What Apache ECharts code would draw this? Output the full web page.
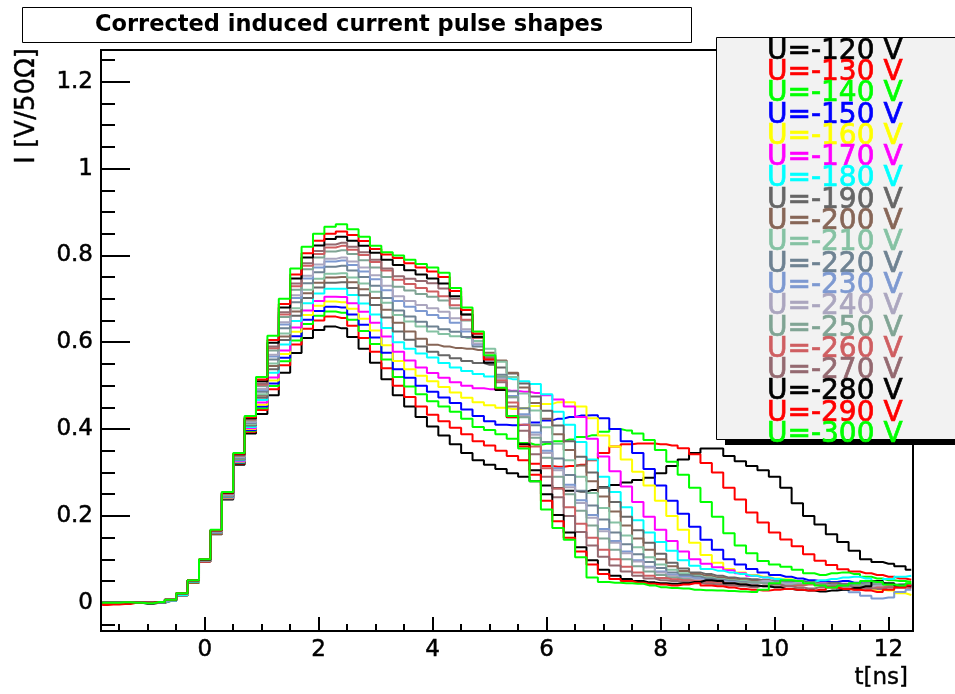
<!DOCTYPE html>
<html>
<head>
<meta charset="utf-8">
<script src="https://cdn.jsdelivr.net/npm/echarts@6.0.0/dist/echarts.min.js"></script>
<style>
  html, body { margin: 0; padding: 0; background: #fff; }
  #pulseChart { width: 955px; height: 694px; }
</style>
</head>
<body>
<div id="pulseChart"></div>
<script>
// bin centres, ns
const timeNs = [-1.8, -1.6, -1.4, -1.2, -1.0, -0.8, -0.6, -0.4, -0.2, 0.0, 0.2, 0.4, 0.6, 0.8,
  1.0, 1.2, 1.4, 1.6, 1.8, 2.0, 2.2, 2.4, 2.6, 2.8, 3.0, 3.2, 3.4, 3.6, 3.8, 4.0,
  4.2, 4.4, 4.6, 4.8, 5.0, 5.2, 5.4, 5.6, 5.8, 6.0, 6.2, 6.4, 6.6, 6.8, 7.0, 7.2, 7.4, 7.6, 7.8, 8.0,
  8.2, 8.4, 8.6, 8.8, 9.0, 9.2, 9.4, 9.6, 9.8, 10.0, 10.2, 10.4, 10.6, 10.8, 11.0, 11.2, 11.4, 11.6, 11.8, 12.0, 12.2, 12.4];

const legendLabels = ['U=-120 V', 'U=-130 V', 'U=-140 V', 'U=-150 V', 'U=-160 V', 'U=-170 V', 'U=-180 V',
  'U=-190 V', 'U=-200 V', 'U=-210 V', 'U=-220 V', 'U=-230 V', 'U=-240 V', 'U=-250 V', 'U=-260 V',
  'U=-270 V', 'U=-280 V', 'U=-290 V', 'U=-300 V'];

const lineColors = ['#000000', '#ff0000', '#00ff00', '#0000ff', '#ffff00', '#ff00ff', '#00ffff',
  '#666666', '#876657', '#85c2a3', '#6e8292', '#7d99d1', '#aba6bf', '#80a494', '#cf5e61',
  '#946970', '#000000', '#ff0000', '#00ff00'];

const xTickLabels = [0, 2, 4, 6, 8, 10, 12];
const xMinorTicks = [-1.5, -1, -0.5, 0, 0.5, 1, 1.5, 2, 2.5, 3, 3.5, 4, 4.5, 5, 5.5, 6, 6.5, 7, 7.5, 8, 8.5, 9, 9.5, 10, 10.5, 11, 11.5, 12];
const yTickLabels = [0, 0.2, 0.4, 0.6, 0.8, 1, 1.2];
const yMinorTicks = [-0.05, 0, 0.05, 0.1, 0.15, 0.2, 0.25, 0.3, 0.35, 0.4, 0.45, 0.5, 0.55, 0.6, 0.65, 0.7,
  0.75, 0.8, 0.85, 0.9, 0.95, 1, 1.05, 1.1, 1.15, 1.2, 1.25];

// I [V/50 Ohm] per bin, one array per bias voltage
const pulse120 = [0.000, 0.000, 0.000, 0.000, -0.002, 0.000, 0.004, 0.017, 0.046, 0.095, 0.158, 0.238, 0.318, 0.390,
  0.435, 0.478, 0.530, 0.575, 0.610, 0.628, 0.636, 0.632, 0.612, 0.585, 0.553, 0.515, 0.478, 0.452, 0.428, 0.406,
  0.385, 0.365, 0.345, 0.328, 0.318, 0.308, 0.298, 0.290, 0.280, 0.270, 0.264, 0.258, 0.256, 0.260, 0.266, 0.271, 0.277, 0.283, 0.288, 0.298,
  0.315, 0.330, 0.345, 0.355, 0.355, 0.338, 0.326, 0.315, 0.305, 0.290, 0.265, 0.229, 0.200, 0.180, 0.158, 0.140, 0.120, 0.100, 0.094, 0.090, 0.084, 0.076];
const pulse130 = [-0.005, -0.004, -0.003, 0.000, 0.000, 0.001, 0.005, 0.018, 0.047, 0.095, 0.159, 0.240, 0.321, 0.394,
  0.444, 0.492, 0.547, 0.595, 0.631, 0.650, 0.659, 0.656, 0.638, 0.610, 0.578, 0.540, 0.500, 0.474, 0.452, 0.433,
  0.418, 0.403, 0.388, 0.372, 0.362, 0.350, 0.338, 0.328, 0.320, 0.315, 0.313, 0.315, 0.318, 0.328, 0.345, 0.360, 0.365, 0.367, 0.367, 0.365,
  0.362, 0.356, 0.342, 0.322, 0.300, 0.265, 0.238, 0.208, 0.185, 0.162, 0.146, 0.130, 0.112, 0.097, 0.087, 0.077, 0.072, 0.068, 0.064, 0.060, 0.056, 0.053];
const pulse140 = [0.000, 0.001, 0.000, 0.000, 0.000, 0.002, 0.006, 0.019, 0.048, 0.096, 0.160, 0.241, 0.322, 0.396,
  0.448, 0.499, 0.556, 0.604, 0.642, 0.661, 0.671, 0.668, 0.652, 0.626, 0.596, 0.560, 0.520, 0.498, 0.480, 0.464,
  0.452, 0.440, 0.424, 0.405, 0.398, 0.388, 0.378, 0.368, 0.364, 0.366, 0.372, 0.376, 0.382, 0.386, 0.394, 0.400, 0.397, 0.390, 0.375, 0.352,
  0.325, 0.295, 0.265, 0.232, 0.198, 0.160, 0.132, 0.114, 0.096, 0.088, 0.083, 0.076, 0.068, 0.064, 0.068, 0.070, 0.066, 0.060, 0.056, 0.052, 0.050, 0.048];
const pulse150 = [0.000, 0.000, 0.001, 0.000, 0.000, 0.001, 0.005, 0.019, 0.048, 0.096, 0.160, 0.241, 0.323, 0.398,
  0.452, 0.505, 0.564, 0.614, 0.652, 0.672, 0.682, 0.680, 0.664, 0.640, 0.611, 0.576, 0.538, 0.518, 0.500, 0.486,
  0.473, 0.460, 0.445, 0.430, 0.418, 0.410, 0.409, 0.410, 0.415, 0.420, 0.424, 0.428, 0.431, 0.432, 0.425, 0.400, 0.372, 0.345, 0.308, 0.270,
  0.235, 0.205, 0.175, 0.145, 0.122, 0.100, 0.088, 0.078, 0.070, 0.064, 0.060, 0.056, 0.052, 0.050, 0.048, 0.050, 0.046, 0.042, 0.045, 0.040, 0.038, 0.040];
const pulse160 = [0.000, 0.000, 0.000, 0.001, 0.000, 0.001, 0.005, 0.018, 0.047, 0.096, 0.160, 0.242, 0.325, 0.400,
  0.456, 0.512, 0.573, 0.624, 0.663, 0.684, 0.694, 0.692, 0.677, 0.654, 0.627, 0.593, 0.557, 0.538, 0.523, 0.510,
  0.497, 0.484, 0.472, 0.462, 0.455, 0.449, 0.446, 0.448, 0.453, 0.458, 0.462, 0.462, 0.452, 0.425, 0.385, 0.360, 0.330, 0.302, 0.270, 0.235,
  0.200, 0.168, 0.138, 0.110, 0.092, 0.078, 0.070, 0.064, 0.060, 0.056, 0.054, 0.050, 0.046, 0.044, 0.045, 0.042, 0.040, 0.035, 0.030, 0.028, 0.022, 0.018];
const pulse170 = [0.000, 0.000, 0.000, 0.000, 0.001, 0.002, 0.007, 0.020, 0.049, 0.097, 0.161, 0.243, 0.326, 0.402,
  0.461, 0.519, 0.581, 0.634, 0.673, 0.695, 0.705, 0.704, 0.690, 0.670, 0.645, 0.613, 0.578, 0.558, 0.542, 0.529,
  0.518, 0.508, 0.500, 0.494, 0.492, 0.490, 0.488, 0.486, 0.483, 0.478, 0.468, 0.452, 0.428, 0.378, 0.337, 0.303, 0.268, 0.232, 0.198, 0.168,
  0.142, 0.118, 0.100, 0.090, 0.082, 0.075, 0.068, 0.062, 0.058, 0.055, 0.050, 0.048, 0.046, 0.045, 0.042, 0.044, 0.040, 0.038, 0.040, 0.036, 0.034, 0.035];
const pulse180 = [0.000, 0.000, 0.000, 0.000, 0.000, 0.001, 0.004, 0.018, 0.048, 0.097, 0.162, 0.244, 0.328, 0.405,
  0.467, 0.530, 0.595, 0.649, 0.690, 0.712, 0.723, 0.723, 0.709, 0.689, 0.664, 0.633, 0.600, 0.585, 0.574, 0.565,
  0.552, 0.542, 0.534, 0.527, 0.521, 0.518, 0.515, 0.510, 0.504, 0.480, 0.440, 0.410, 0.370, 0.330, 0.290, 0.255, 0.220, 0.190, 0.162, 0.140,
  0.120, 0.098, 0.085, 0.078, 0.074, 0.070, 0.066, 0.062, 0.058, 0.055, 0.052, 0.050, 0.048, 0.052, 0.055, 0.058, 0.060, 0.056, 0.050, 0.055, 0.060, 0.062];
const pulse190 = [0.000, 0.000, 0.001, 0.000, 0.000, 0.002, 0.006, 0.020, 0.049, 0.097, 0.162, 0.245, 0.330, 0.408,
  0.472, 0.538, 0.605, 0.661, 0.702, 0.726, 0.737, 0.738, 0.725, 0.708, 0.686, 0.657, 0.625, 0.606, 0.590, 0.578,
  0.570, 0.563, 0.557, 0.552, 0.548, 0.542, 0.528, 0.505, 0.475, 0.442, 0.408, 0.372, 0.336, 0.300, 0.265, 0.232, 0.198, 0.167, 0.138, 0.113,
  0.092, 0.079, 0.070, 0.066, 0.062, 0.058, 0.056, 0.054, 0.052, 0.050, 0.048, 0.050, 0.047, 0.044, 0.046, 0.043, 0.040, 0.044, 0.046, 0.042, 0.040, 0.043];
const pulse200 = [0.000, 0.000, 0.000, 0.000, 0.000, 0.002, 0.006, 0.020, 0.050, 0.097, 0.163, 0.246, 0.331, 0.410,
  0.477, 0.545, 0.613, 0.671, 0.713, 0.737, 0.749, 0.750, 0.738, 0.722, 0.702, 0.675, 0.645, 0.625, 0.608, 0.594,
  0.590, 0.587, 0.585, 0.582, 0.576, 0.558, 0.530, 0.496, 0.460, 0.424, 0.388, 0.352, 0.316, 0.280, 0.245, 0.210, 0.178, 0.148, 0.122, 0.100,
  0.084, 0.073, 0.066, 0.062, 0.058, 0.055, 0.052, 0.050, 0.052, 0.048, 0.046, 0.044, 0.046, 0.042, 0.040, 0.042, 0.044, 0.040, 0.038, 0.040, 0.042, 0.038];
const pulse210 = [0.000, 0.000, 0.000, 0.001, 0.000, 0.002, 0.006, 0.020, 0.050, 0.098, 0.163, 0.247, 0.332, 0.411,
  0.480, 0.551, 0.620, 0.678, 0.721, 0.746, 0.758, 0.759, 0.749, 0.735, 0.716, 0.691, 0.663, 0.648, 0.636, 0.625,
  0.619, 0.614, 0.610, 0.603, 0.585, 0.555, 0.520, 0.482, 0.443, 0.404, 0.366, 0.328, 0.290, 0.253, 0.218, 0.185, 0.155, 0.128, 0.105, 0.088,
  0.076, 0.068, 0.062, 0.058, 0.055, 0.052, 0.050, 0.048, 0.046, 0.048, 0.045, 0.042, 0.044, 0.040, 0.038, 0.041, 0.043, 0.040, 0.038, 0.041, 0.043, 0.040];
const pulse220 = [0.000, 0.000, 0.000, 0.000, 0.000, 0.002, 0.006, 0.021, 0.050, 0.098, 0.164, 0.248, 0.334, 0.414,
  0.486, 0.560, 0.632, 0.692, 0.736, 0.761, 0.774, 0.776, 0.765, 0.750, 0.730, 0.702, 0.673, 0.659, 0.647, 0.636,
  0.630, 0.624, 0.612, 0.590, 0.560, 0.525, 0.487, 0.448, 0.409, 0.370, 0.332, 0.294, 0.258, 0.224, 0.192, 0.162, 0.135, 0.112, 0.094, 0.080,
  0.070, 0.064, 0.060, 0.056, 0.053, 0.050, 0.048, 0.046, 0.048, 0.050, 0.047, 0.044, 0.045, 0.042, 0.040, 0.042, 0.044, 0.046, 0.043, 0.040, 0.042, 0.044];
const pulse230 = [0.000, 0.000, 0.000, 0.000, 0.001, 0.002, 0.006, 0.021, 0.050, 0.098, 0.164, 0.249, 0.336, 0.416,
  0.490, 0.567, 0.641, 0.702, 0.747, 0.772, 0.786, 0.788, 0.778, 0.763, 0.745, 0.720, 0.695, 0.682, 0.672, 0.663,
  0.656, 0.645, 0.625, 0.595, 0.558, 0.518, 0.476, 0.434, 0.392, 0.350, 0.310, 0.272, 0.236, 0.202, 0.170, 0.142, 0.118, 0.098, 0.083, 0.072,
  0.065, 0.060, 0.056, 0.052, 0.050, 0.048, 0.046, 0.048, 0.046, 0.044, 0.045, 0.047, 0.044, 0.040, 0.036, 0.030, 0.024, 0.016, 0.010, 0.012, 0.025, 0.030];
const pulse240 = [0.000, 0.000, 0.001, 0.000, 0.000, 0.002, 0.007, 0.021, 0.051, 0.098, 0.165, 0.250, 0.336, 0.417,
  0.493, 0.571, 0.646, 0.708, 0.753, 0.779, 0.792, 0.795, 0.786, 0.772, 0.754, 0.730, 0.706, 0.695, 0.686, 0.678,
  0.670, 0.655, 0.630, 0.597, 0.558, 0.516, 0.473, 0.430, 0.387, 0.345, 0.305, 0.266, 0.230, 0.196, 0.165, 0.138, 0.114, 0.095, 0.081, 0.070,
  0.062, 0.057, 0.053, 0.050, 0.048, 0.046, 0.045, 0.048, 0.050, 0.046, 0.044, 0.046, 0.044, 0.040, 0.038, 0.036, 0.035, 0.038, 0.040, 0.036, 0.034, 0.036];
const pulse250 = [0.000, 0.000, 0.000, 0.000, 0.000, 0.002, 0.007, 0.021, 0.051, 0.099, 0.165, 0.251, 0.338, 0.420,
  0.499, 0.581, 0.658, 0.721, 0.768, 0.795, 0.809, 0.812, 0.803, 0.789, 0.772, 0.750, 0.728, 0.719, 0.711, 0.705,
  0.696, 0.678, 0.650, 0.612, 0.568, 0.521, 0.474, 0.427, 0.380, 0.334, 0.290, 0.250, 0.212, 0.178, 0.148, 0.122, 0.100, 0.084, 0.072, 0.064,
  0.058, 0.054, 0.050, 0.048, 0.046, 0.044, 0.046, 0.048, 0.045, 0.042, 0.040, 0.042, 0.045, 0.042, 0.040, 0.038, 0.040, 0.043, 0.045, 0.042, 0.040, 0.042];
const pulse260 = [0.000, 0.000, 0.000, 0.000, 0.000, 0.002, 0.007, 0.022, 0.051, 0.099, 0.166, 0.251, 0.339, 0.422,
  0.502, 0.586, 0.664, 0.729, 0.776, 0.803, 0.818, 0.822, 0.813, 0.801, 0.785, 0.765, 0.744, 0.734, 0.725, 0.717,
  0.706, 0.685, 0.652, 0.610, 0.562, 0.512, 0.461, 0.410, 0.360, 0.310, 0.263, 0.220, 0.182, 0.150, 0.122, 0.100, 0.083, 0.070, 0.062, 0.057,
  0.054, 0.052, 0.050, 0.048, 0.046, 0.044, 0.042, 0.040, 0.038, 0.036, 0.038, 0.040, 0.042, 0.040, 0.036, 0.033, 0.030, 0.032, 0.035, 0.038, 0.036, 0.034];
const pulse270 = [0.000, 0.000, 0.000, 0.001, 0.000, 0.002, 0.007, 0.022, 0.052, 0.099, 0.166, 0.252, 0.340, 0.423,
  0.505, 0.590, 0.669, 0.735, 0.782, 0.810, 0.825, 0.829, 0.820, 0.807, 0.790, 0.770, 0.752, 0.746, 0.741, 0.736,
  0.724, 0.700, 0.664, 0.618, 0.565, 0.508, 0.452, 0.396, 0.342, 0.290, 0.243, 0.200, 0.163, 0.132, 0.106, 0.086, 0.072, 0.062, 0.056, 0.052,
  0.050, 0.048, 0.046, 0.044, 0.042, 0.040, 0.038, 0.036, 0.040, 0.042, 0.038, 0.035, 0.033, 0.036, 0.038, 0.040, 0.036, 0.034, 0.032, 0.035, 0.038, 0.036];
const pulse280 = [0.000, 0.000, 0.000, 0.000, 0.000, 0.002, 0.007, 0.022, 0.052, 0.099, 0.167, 0.253, 0.342, 0.425,
  0.510, 0.599, 0.680, 0.747, 0.795, 0.823, 0.838, 0.843, 0.834, 0.822, 0.806, 0.790, 0.778, 0.766, 0.756, 0.747,
  0.735, 0.706, 0.664, 0.612, 0.553, 0.490, 0.427, 0.365, 0.305, 0.250, 0.202, 0.162, 0.128, 0.098, 0.076, 0.062, 0.055, 0.050, 0.047, 0.045,
  0.044, 0.045, 0.048, 0.052, 0.050, 0.045, 0.042, 0.040, 0.038, 0.036, 0.032, 0.030, 0.028, 0.026, 0.028, 0.030, 0.034, 0.038, 0.050, 0.045, 0.040, 0.038];
const pulse290 = [-0.003, -0.003, 0.000, 0.000, 0.000, 0.002, 0.007, 0.022, 0.052, 0.100, 0.167, 0.254, 0.343, 0.427,
  0.514, 0.605, 0.688, 0.756, 0.805, 0.834, 0.850, 0.855, 0.847, 0.833, 0.815, 0.802, 0.794, 0.782, 0.772, 0.763,
  0.750, 0.718, 0.674, 0.620, 0.560, 0.494, 0.428, 0.360, 0.295, 0.235, 0.188, 0.150, 0.118, 0.088, 0.066, 0.055, 0.050, 0.046, 0.044, 0.042,
  0.040, 0.042, 0.045, 0.040, 0.038, 0.035, 0.032, 0.030, 0.028, 0.030, 0.032, 0.030, 0.028, 0.030, 0.035, 0.032, 0.030, 0.028, 0.025, 0.030, 0.035, 0.040];
const pulse300 = [0.000, 0.000, 0.001, 0.000, -0.001, 0.002, 0.007, 0.022, 0.052, 0.100, 0.168, 0.255, 0.345, 0.430,
  0.520, 0.615, 0.700, 0.770, 0.820, 0.850, 0.866, 0.872, 0.860, 0.843, 0.822, 0.807, 0.800, 0.790, 0.780, 0.772,
  0.760, 0.725, 0.680, 0.625, 0.570, 0.495, 0.430, 0.355, 0.280, 0.215, 0.172, 0.145, 0.105, 0.058, 0.048, 0.046, 0.045, 0.044, 0.040, 0.036,
  0.034, 0.033, 0.030, 0.029, 0.028, 0.027, 0.026, 0.025, 0.030, 0.045, 0.052, 0.050, 0.045, 0.040, 0.035, 0.040, 0.045, 0.050, 0.048, 0.042, 0.040, 0.045];

const pulses = [pulse120, pulse130, pulse140, pulse150, pulse160, pulse170, pulse180, pulse190, pulse200, pulse210,
  pulse220, pulse230, pulse240, pulse250, pulse260, pulse270, pulse280, pulse290, pulse300];

const X_MIN = -1.82, X_MAX = 12.43;
const Y_MIN = -0.065, Y_MAX = 1.273;
const FONT = 'DejaVu Sans';

let myChart = echarts.init(document.getElementById('pulseChart'));

let seriesList = pulses.map(function (vals, i) {
  return {
    name: legendLabels[i],
    type: 'line',
    step: 'middle',
    symbol: 'none',
    silent: true,
    lineStyle: { color: lineColors[i], width: 2 },
    itemStyle: { color: lineColors[i] },
    emphasis: { disabled: true },
    data: timeNs.map(function (t, j) { return [t, vals[j]]; })
  };
});

let axisLabelStyle = { fontFamily: FONT, fontSize: 23, color: '#000', textBorderColor: '#000', textBorderWidth: 0.5 };

let option = {
  animation: false,
  backgroundColor: '#fff',
  textStyle: { fontFamily: FONT },
  title: {
    text: 'Corrected induced current pulse shapes',
    left: 22,
    top: 7,
    padding: [5, 89, 5, 73],
    borderColor: '#000',
    borderWidth: 1,
    backgroundColor: '#fff',
    textStyle: { fontFamily: FONT, fontWeight: 'bold', fontSize: 22.5, lineHeight: 26, color: '#000' }
  },
  grid: {
    left: 101, right: 42, top: 50, bottom: 63,
    show: true, borderColor: '#000', borderWidth: 2, backgroundColor: 'transparent'
  },
  legend: {
    orient: 'vertical',
    left: 758,
    top: 37,
    padding: 0,
    itemGap: -7.4,
    itemWidth: 0,
    itemHeight: 10,
    selectedMode: false,
    z: 10,
    itemStyle: { opacity: 0 },
    lineStyle: { opacity: 0 },
    textStyle: { fontFamily: FONT, fontSize: 28 },
    data: legendLabels.map(function (l, i) {
      return { name: l, textStyle: { color: lineColors[i], textBorderColor: lineColors[i], textBorderWidth: 0.7 } };
    })
  },
  xAxis: [
    {
      type: 'value', min: X_MIN, max: X_MAX,
      axisLine: { show: true, onZero: false, lineStyle: { color: '#000', width: 2 } },
      axisTick: { show: true, inside: true, length: 14, customValues: xTickLabels, lineStyle: { color: '#000', width: 2 } },
      axisLabel: Object.assign({ customValues: xTickLabels, margin: 8 }, axisLabelStyle),
      splitLine: { show: false }
    },
    {
      type: 'value', min: X_MIN, max: X_MAX, position: 'bottom',
      axisLine: { show: false, onZero: false },
      axisTick: { show: true, inside: true, length: 7, customValues: xMinorTicks, lineStyle: { color: '#000', width: 2 } },
      axisLabel: { show: false },
      splitLine: { show: false }
    }
  ],
  yAxis: [
    {
      type: 'value', min: Y_MIN, max: Y_MAX,
      axisLine: { show: true, onZero: false, lineStyle: { color: '#000', width: 2 } },
      axisTick: { show: true, inside: true, length: 29, customValues: yTickLabels, lineStyle: { color: '#000', width: 2 } },
      axisLabel: Object.assign({ customValues: yTickLabels, margin: 8 }, axisLabelStyle),
      splitLine: { show: false }
    },
    {
      type: 'value', min: Y_MIN, max: Y_MAX, position: 'left',
      axisLine: { show: false, onZero: false },
      axisTick: { show: true, inside: true, length: 14, customValues: yMinorTicks, lineStyle: { color: '#000', width: 2 } },
      axisLabel: { show: false },
      splitLine: { show: false }
    }
  ],
  graphic: [
    // legend pave + its shadow
    { type: 'rect', z: 5, shape: { x: 725, y: 440, width: 240, height: 5 }, style: { fill: '#000' } },
    { type: 'rect', z: 5, shape: { x: 716.5, y: 37.5, width: 250, height: 402 }, style: { fill: '#f2f2f2', stroke: '#000', lineWidth: 1 } },
    {
      type: 'text', z: 5, x: 27, y: 48, rotation: Math.PI / 2,
      style: { text: 'I [V/50\u03A9]', font: '26px "DejaVu Sans"', fill: '#000', stroke: '#000', lineWidth: 0.4, textAlign: 'right', textVerticalAlign: 'middle' }
    },
    {
      type: 'text', z: 5, x: 908, y: 678,
      style: { text: 't[ns]', font: '23px "DejaVu Sans"', fill: '#000', stroke: '#000', lineWidth: 0.4, textAlign: 'right', textVerticalAlign: 'middle' }
    }
  ],
  series: seriesList
};

myChart.setOption(option);
</script>
</body>
</html>
